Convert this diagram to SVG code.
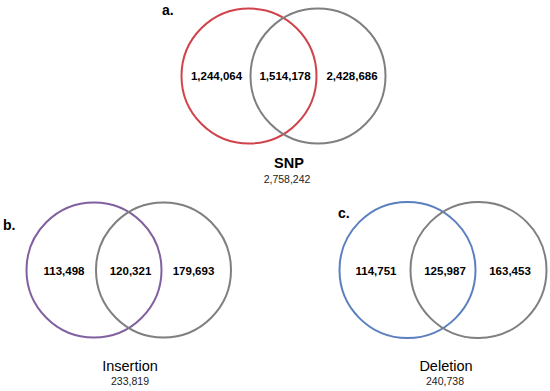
<svg xmlns="http://www.w3.org/2000/svg" width="550" height="391" viewBox="0 0 550 391">
<style>
.c{fill:none;stroke-width:2}
.g{stroke:#7f7f7f}
.n{font-family:"Liberation Sans",Arial,sans-serif;font-weight:bold;font-size:11.5px;fill:#000;text-anchor:middle}
.t{font-family:"Liberation Sans",Arial,sans-serif;font-size:14.5px;fill:#000;text-anchor:middle}
.tb{font-weight:bold}
.s{font-family:"Liberation Sans",Arial,sans-serif;font-size:10.5px;fill:#222;text-anchor:middle}
.l{font-family:"Liberation Sans",Arial,sans-serif;font-weight:bold;font-size:14px;fill:#000}
</style>
<rect width="550" height="391" fill="#fff"/>
<g id="venn-a">
<circle class="c" cx="249" cy="76" r="67.5" stroke="#d0434a"/>
<circle class="c g" cx="318" cy="76" r="67.5"/>
<text class="l" x="162" y="15">a.</text>
<text class="n" x="216.5" y="80">1,244,064</text>
<text class="n" x="285" y="80">1,514,178</text>
<text class="n" x="352" y="80">2,428,686</text>
<text class="t tb" x="289" y="168">SNP</text>
<text class="s" x="287" y="183">2,758,242</text>
</g>
<g id="venn-b">
<circle class="c" cx="94" cy="270" r="67.5" stroke="#8060a0"/>
<circle class="c g" cx="163.5" cy="270" r="67.5"/>
<text class="l" x="3" y="230">b.</text>
<text class="n" x="64" y="274.5">113,498</text>
<text class="n" x="130.5" y="274.5">120,321</text>
<text class="n" x="193.5" y="274.5">179,693</text>
<text class="t" x="130" y="371">Insertion</text>
<text class="s" x="130" y="385">233,819</text>
</g>
<g id="venn-c">
<circle class="c" cx="407.5" cy="270" r="68" stroke="#5a80c0"/>
<circle class="c g" cx="478.5" cy="270" r="68"/>
<text class="l" x="338" y="218">c.</text>
<text class="n" x="376" y="274.5">114,751</text>
<text class="n" x="445" y="274.5">125,987</text>
<text class="n" x="510" y="274.5">163,453</text>
<text class="t" x="446" y="371">Deletion</text>
<text class="s" x="445" y="385">240,738</text>
</g>
<g id="connectors"></g>
</svg>
